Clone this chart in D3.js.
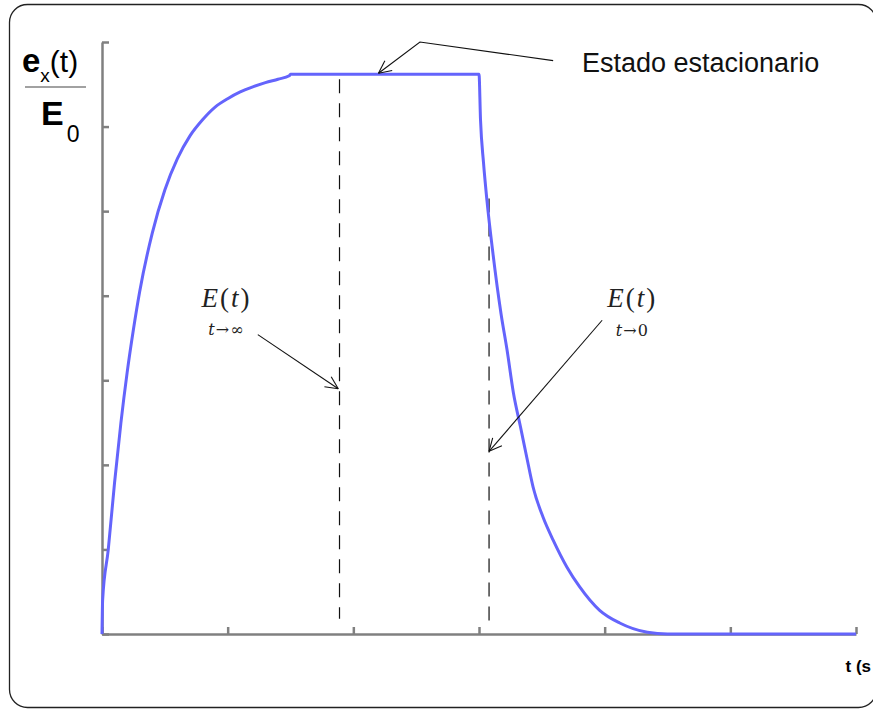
<!DOCTYPE html>
<html lang="es">
<head>
  <meta charset="utf-8">
  <title>Respuesta ex(t)/E0</title>
  <script src="https://cdnjs.cloudflare.com/ajax/libs/d3/7.8.5/d3.min.js"></script>
  <style type="text/css">
  body {
    margin: 0;
    background: #fff;
  }
  #chart {
    display: block;
  }
  .axis path,
  .axis line {
    stroke: #808080;
    stroke-width: 2.5;
    fill: none;
  }
  .sans {
    font-family: 'Liberation Sans', Arial, sans-serif;
  }
  .serif {
    font-family: 'Liberation Serif', 'DejaVu Serif', serif;
  }
  </style>
</head>
<body>
  <svg id="chart"></svg>
  <script type="text/javascript">
  // curve: t (x units) and e_x(t)/E0 (y units)
  var riseT = [0, 0.005, 0.05, 0.1, 0.15, 0.2, 0.25, 0.3, 0.4, 0.5, 0.6, 0.7, 0.8, 0.9, 1.0, 1.1, 1.2, 1.3, 1.4, 1.49];
  var riseV = [0, 0.4, 1.0, 1.79, 2.49, 3.09, 3.6, 4.05, 4.74, 5.25, 5.62, 5.89, 6.08, 6.23, 6.33, 6.41, 6.47, 6.52, 6.56, 6.6];
  var plateauT = [1.5, 2.99];
  var plateauV = [6.62, 6.62];
  var decayT = [3.0, 3.012, 3.036, 3.063, 3.111, 3.175, 3.223, 3.274, 3.33, 3.38, 3.43, 3.51, 3.59, 3.7, 3.8, 3.96, 4.12, 4.34, 4.5, 6.0];
  var decayV = [6.62, 6.08, 5.57, 5.13, 4.5, 3.79, 3.36, 2.85, 2.45, 2.09, 1.74, 1.38, 1.11, 0.79, 0.56, 0.28, 0.13, 0.02, 0, 0];

  // axes ticks (no labels in the original)
  var xTicks = [0, 1, 2, 3, 4, 5, 6];
  var yTicks = [0, 1, 2, 3, 4, 5, 6, 7];

  // dashed guides: t, from, to
  var guideT = [1.89, 3.08];
  var guideFrom = [0.18, 0.1];
  var guideTo = [6.56, 5.15];

  // annotation arrows (polylines, last point is the tip)
  var arrows = [
    [[3.59, 6.78], [2.53, 7.0], [2.2, 6.63]],
    [[1.24, 3.54], [1.88, 2.9]],
    [[3.98, 3.71], [3.08, 2.16]]
  ];
  var labelT = [0.99, 4.22];
  var labelV = [3.87, 3.87];
  var subV = [3.53, 3.52];
  var subText = ["\u2192\u221E", "\u21920"];

  var w = 873;
  var h = 709;

  var x = d3.scaleLinear().domain([0, 6]).range([102, 856]);
  var y = d3.scaleLinear().domain([0, 7]).range([634, 42]);

  var svg = d3.select("#chart")
    .attr("width", w)
    .attr("height", h);

  // rounded frame (right side runs off the page, as in the original)
  svg.append("rect")
    .attr("x", 9.5)
    .attr("y", 4.5)
    .attr("width", 867)
    .attr("height", 703)
    .attr("rx", 18)
    .attr("fill", "none")
    .attr("stroke", "#222")
    .attr("stroke-width", 1.3);

  // axes
  svg.append("g")
    .attr("class", "axis")
    .attr("transform", "translate(" + x(0) + ",0)")
    .call(d3.axisRight(y).tickValues(yTicks).tickSize(7).tickSizeOuter(0).tickFormat(""));

  svg.append("g")
    .attr("class", "axis")
    .attr("transform", "translate(0," + y(0) + ")")
    .call(d3.axisTop(x).tickValues(xTicks).tickSize(7).tickSizeOuter(0).tickFormat(""));

  // dashed guides
  svg.append("g")
    .selectAll("line")
    .data(guideT)
    .enter()
    .append("line")
    .attr("x1", function(d) { return x(d); })
    .attr("x2", function(d) { return x(d); })
    .attr("y1", function(d, i) { return y(guideTo[i]); })
    .attr("y2", function(d, i) { return y(guideFrom[i]); })
    .attr("stroke", "#111")
    .attr("stroke-width", 1.2)
    .attr("stroke-dasharray", "14,10");

  // the curve
  var pts = [];
  riseT.forEach(function(t, i) { pts.push([t, riseV[i]]); });
  plateauT.forEach(function(t, i) { pts.push([t, plateauV[i]]); });
  decayT.forEach(function(t, i) { pts.push([t, decayV[i]]); });

  var line = d3.line()
    .x(function(d) { return x(d[0]); })
    .y(function(d) { return y(d[1]); })
    .curve(d3.curveMonotoneX);

  svg.append("path")
    .datum(pts)
    .attr("d", line)
    .attr("fill", "none")
    .attr("stroke", "#6464fc")
    .attr("stroke-width", 3)
    .attr("stroke-linejoin", "round");

  // arrows with open heads
  var arrowG = svg.append("g")
    .attr("stroke", "#111")
    .attr("stroke-width", 1.1)
    .attr("fill", "none");

  arrows.forEach(function(a) {
    var p = a.map(function(d) { return [x(d[0]), y(d[1])]; });
    arrowG.append("path").attr("d", d3.line()(p));
    var tip = p[p.length - 1], prev = p[p.length - 2];
    var ang = Math.atan2(prev[1] - tip[1], prev[0] - tip[0]);
    [-0.45, 0.45].forEach(function(da) {
      arrowG.append("line")
        .attr("x1", tip[0])
        .attr("y1", tip[1])
        .attr("x2", tip[0] + 14 * Math.cos(ang + da))
        .attr("y2", tip[1] + 14 * Math.sin(ang + da));
    });
  });

  // E(t) labels
  labelT.forEach(function(t, i) {
    var txt = svg.append("text")
      .attr("class", "serif")
      .attr("x", x(t))
      .attr("y", y(labelV[i]))
      .attr("text-anchor", "middle")
      .style("font-size", "27px")
      .style("letter-spacing", "2px")
      .attr("fill", "#222");
    txt.append("tspan").style("font-style", "italic").text("E");
    txt.append("tspan").text("(");
    txt.append("tspan").style("font-style", "italic").text("t");
    txt.append("tspan").text(")");

    var sub = svg.append("text")
      .attr("x", x(t))
      .attr("y", y(subV[i]))
      .attr("text-anchor", "middle")
      .style("font-family", "'DejaVu Serif', serif")
      .style("font-size", "16px")
      .style("letter-spacing", "1px")
      .attr("fill", "#222");
    sub.append("tspan").style("font-style", "italic").text("t");
    sub.append("tspan").text(subText[i]);
  });

  // "Estado estacionario"
  svg.append("text")
    .attr("class", "sans")
    .attr("x", 582)
    .attr("y", 72)
    .style("font-size", "27px")
    .attr("fill", "#111")
    .text("Estado estacionario");

  // y label: e_x(t) / E_0
  var num = svg.append("text")
    .attr("class", "sans")
    .attr("x", 22)
    .attr("y", 72)
    .attr("fill", "#000");
  num.append("tspan").style("font-size", "33px").style("font-weight", "bold").text("e");
  num.append("tspan").attr("dy", 10).style("font-size", "19px").text("x");
  num.append("tspan").attr("dy", -10).style("font-size", "30px").text("(t)");

  svg.append("line")
    .attr("x1", 25)
    .attr("x2", 86)
    .attr("y1", 87)
    .attr("y2", 87)
    .attr("stroke", "#444")
    .attr("stroke-width", 1.2);

  var den = svg.append("text")
    .attr("class", "sans")
    .attr("x", 41)
    .attr("y", 125)
    .attr("fill", "#000");
  den.append("tspan").style("font-size", "34px").style("font-weight", "bold").text("E");
  den.append("tspan").attr("dx", 3).attr("dy", 17).style("font-size", "23px").text("0");

  // x label: only "t (s" is visible in the original, the rest is past the edge
  svg.append("text")
    .attr("class", "sans")
    .attr("x", 871)
    .attr("y", 672)
    .attr("text-anchor", "end")
    .style("font-size", "17px")
    .style("font-weight", "bold")
    .attr("fill", "#000")
    .text("t (s");
  </script>
</body>
</html>
